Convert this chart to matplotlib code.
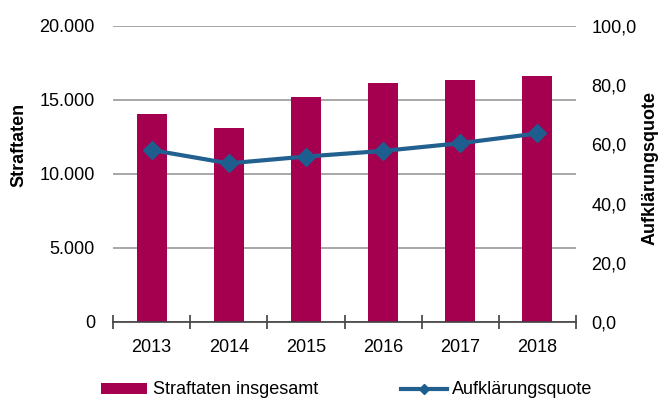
import matplotlib.pyplot as plt
import numpy as np
from matplotlib.ticker import FuncFormatter, FixedLocator

plt.rcParams['font.family'] = ['Liberation Sans', 'DejaVu Sans']

years = ['2013', '2014', '2015', '2016', '2017', '2018']
straftaten = [14050, 13090, 15200, 16180, 16380, 16620]
quote = [58.1, 53.6, 55.9, 57.8, 60.4, 63.7]

bar_color = '#A50050'
line_color = '#22608F'

fig = plt.figure(figsize=(6.71, 4.01), dpi=100)
ax = fig.add_axes([113/671, 1-322/401, 463/671, 296/401])
ax2 = ax.twinx()

x = np.arange(len(years))
ax.bar(x, straftaten, width=0.39, color=bar_color, zorder=2,
       label='Straftaten insgesamt')
ax2.plot(x, quote, color=line_color, lw=3, marker='D', markersize=9,
         markerfacecolor='#1E5E8E', markeredgecolor='#1E5E8E', zorder=3,
         label='Aufklärungsquote')

ax.set_xlim(-0.5, len(years) - 0.5)
ax.set_ylim(0, 20000)
ax2.set_ylim(0, 100)

ax.set_yticks([0, 5000, 10000, 15000, 20000])
ax.yaxis.set_major_formatter(FuncFormatter(lambda v, p: f'{int(v):,}'.replace(',', '.')))
ax2.set_yticks([0, 20, 40, 60, 80, 100])
ax2.yaxis.set_major_formatter(FuncFormatter(lambda v, p: f'{v:.1f}'.replace('.', ',')))

ax.grid(axis='y', color='#A0A0A0', lw=1.3, zorder=0)
ax.set_axisbelow(True)
ax.set_zorder(ax2.get_zorder() - 1)
ax.patch.set_visible(False)
ax2.patch.set_visible(False)

for a in (ax, ax2):
    for s in ['top', 'left', 'right', 'bottom']:
        a.spines[s].set_visible(False)
ax.spines['bottom'].set_visible(True)
ax.spines['bottom'].set_color('#404040')
ax.spines['bottom'].set_linewidth(1.2)

ax.set_xticks(x)
ax.set_xticklabels(years)
ax.xaxis.set_minor_locator(FixedLocator(np.arange(-0.5, len(years), 1)))
ax.tick_params(axis='x', which='major', length=0, pad=12, labelsize=13)
ax.tick_params(axis='x', which='minor', length=10, direction='inout',
               color='#404040', width=1.2)
ax.tick_params(axis='y', length=0, pad=13, labelsize=13)
ax2.tick_params(axis='y', length=0, pad=11, labelsize=13)

ax.set_ylabel('Straftaten', fontsize=13, fontweight='bold')
ax.yaxis.set_label_coords(-0.184, 0.598)
ax2.set_ylabel('Aufklärungsquote', fontsize=13, fontweight='bold')
ax2.yaxis.set_label_coords(1.1425, 0.52)

h1, l1 = ax.get_legend_handles_labels()
h2, l2 = ax2.get_legend_handles_labels()
fig.legend(h1 + h2, l1 + l2, loc='center', bbox_to_anchor=(347/671, 1-390/401),
           ncol=2, frameon=False, fontsize=13, handlelength=2.55,
           handleheight=0.55, handletextpad=0.3, columnspacing=4.6,
           markerscale=0.6)

fig.savefig('out.png', dpi=100)
